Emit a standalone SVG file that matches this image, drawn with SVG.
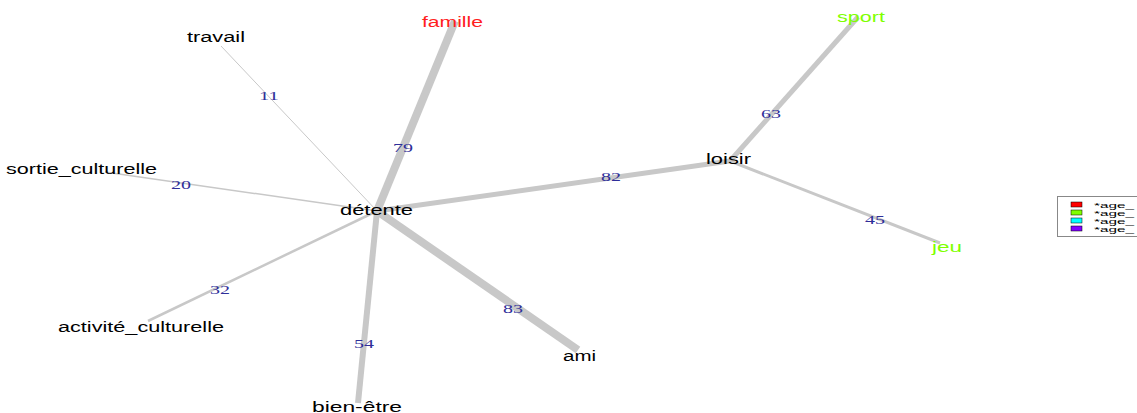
<svg xmlns="http://www.w3.org/2000/svg" width="1137" height="413" viewBox="0 0 1137 413">
<style>
.e{stroke:#c8c8c8;fill:none;stroke-linecap:butt}
.n{font-family:"Liberation Sans",Arial,sans-serif;font-size:14px;fill:#000}
.w{font-family:"Liberation Serif","Times New Roman",serif;font-size:13px;fill:#2e2e99;text-anchor:middle}
.l{font-family:"Liberation Sans",Arial,sans-serif;font-size:7.5px;fill:#000}
</style>
<rect width="1137" height="413" fill="#fff"/>
<g id="connectors">
<line class="e" x1="377" y1="211" x2="221" y2="46" stroke-width="1"/>
<line class="e" x1="377" y1="211" x2="455" y2="21" stroke-width="8"/>
<line class="e" x1="377" y1="211" x2="105" y2="172" stroke-width="1.5"/>
<line class="e" x1="377" y1="211" x2="148" y2="321" stroke-width="2.5"/>
<line class="e" x1="377" y1="211" x2="358" y2="403" stroke-width="6"/>
<line class="e" x1="377" y1="211" x2="578" y2="350" stroke-width="8"/>
<line class="e" x1="377" y1="211" x2="730" y2="161" stroke-width="5"/>
<line class="e" x1="730" y1="161" x2="858" y2="17" stroke-width="5"/>
<line class="e" x1="730" y1="161" x2="940" y2="243" stroke-width="3"/>
<text class="w" x="269" y="100" textLength="20" lengthAdjust="spacingAndGlyphs">11</text>
<text class="w" x="403" y="152" textLength="20" lengthAdjust="spacingAndGlyphs">79</text>
<text class="w" x="181" y="189" textLength="20" lengthAdjust="spacingAndGlyphs">20</text>
<text class="w" x="220" y="294" textLength="20" lengthAdjust="spacingAndGlyphs">32</text>
<text class="w" x="364" y="348" textLength="20" lengthAdjust="spacingAndGlyphs">54</text>
<text class="w" x="513" y="313" textLength="20" lengthAdjust="spacingAndGlyphs">83</text>
<text class="w" x="611" y="181" textLength="20" lengthAdjust="spacingAndGlyphs">82</text>
<text class="w" x="771" y="118" textLength="20" lengthAdjust="spacingAndGlyphs">63</text>
<text class="w" x="875" y="224" textLength="20" lengthAdjust="spacingAndGlyphs">45</text>
</g>
<g id="node-detente"><text class="n" x="340" y="215" textLength="73" lengthAdjust="spacingAndGlyphs">détente</text></g>
<g id="node-travail"><text class="n" x="187" y="42" textLength="58" lengthAdjust="spacingAndGlyphs">travail</text></g>
<g id="node-famille"><text class="n" x="422" y="27" textLength="61" lengthAdjust="spacingAndGlyphs" style="fill:#ff2020">famille</text></g>
<g id="node-sortie_culturelle"><text class="n" x="6" y="174" textLength="151" lengthAdjust="spacingAndGlyphs">sortie_culturelle</text></g>
<g id="node-activite_culturelle"><text class="n" x="58" y="332" textLength="166" lengthAdjust="spacingAndGlyphs">activité_culturelle</text></g>
<g id="node-bien-etre"><text class="n" x="312" y="412" textLength="90" lengthAdjust="spacingAndGlyphs">bien-être</text></g>
<g id="node-ami"><text class="n" x="563" y="361" textLength="33" lengthAdjust="spacingAndGlyphs">ami</text></g>
<g id="node-loisir"><text class="n" x="706" y="164" textLength="45" lengthAdjust="spacingAndGlyphs">loisir</text></g>
<g id="node-sport"><text class="n" x="837" y="22" textLength="48" lengthAdjust="spacingAndGlyphs" style="fill:#80ff00">sport</text></g>
<g id="node-jeu"><text class="n" x="932" y="252" textLength="30" lengthAdjust="spacingAndGlyphs" style="fill:#80ff00">jeu</text></g>
<g id="legend">
<rect x="1057.5" y="196.5" width="100" height="40" fill="#fff" stroke="#888" stroke-width="1"/>
<rect x="1071" y="202" width="11" height="5" fill="#ff0000" stroke="#000" stroke-width="0.5"/>
<rect x="1071" y="210" width="11" height="5" fill="#80ff00" stroke="#000" stroke-width="0.5"/>
<rect x="1071" y="218" width="11" height="5" fill="#00ffff" stroke="#000" stroke-width="0.5"/>
<rect x="1071" y="226" width="11" height="5" fill="#8000ff" stroke="#000" stroke-width="0.5"/>
<text class="l" x="1094" y="207.5" textLength="40" lengthAdjust="spacingAndGlyphs">*age_</text>
<text class="l" x="1094" y="215.5" textLength="40" lengthAdjust="spacingAndGlyphs">*age_</text>
<text class="l" x="1094" y="223.5" textLength="40" lengthAdjust="spacingAndGlyphs">*age_</text>
<text class="l" x="1094" y="231.5" textLength="40" lengthAdjust="spacingAndGlyphs">*age_</text>
</g>
</svg>
